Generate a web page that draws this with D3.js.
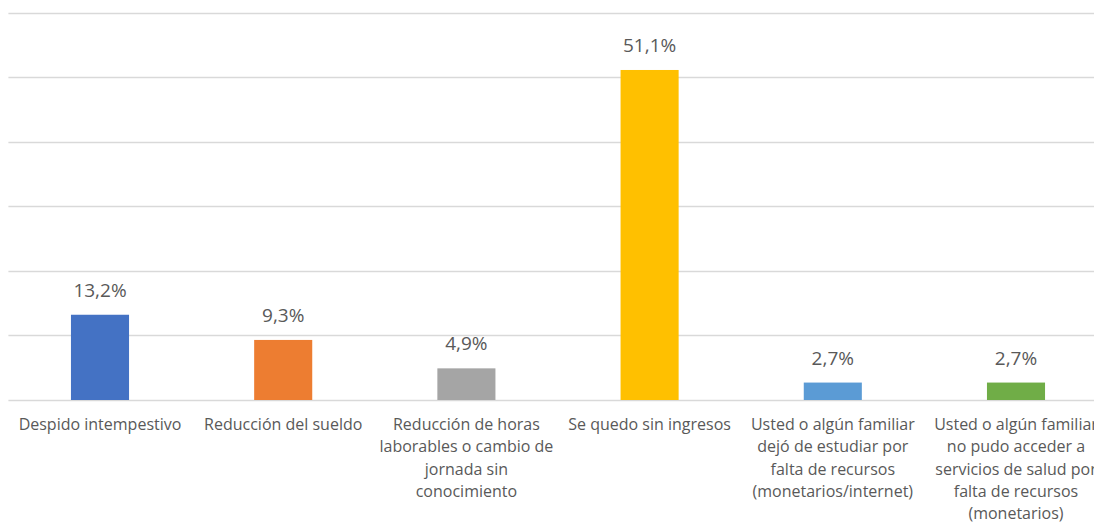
<!DOCTYPE html>
<html><head><meta charset="utf-8">
<script src="https://cdn.jsdelivr.net/npm/d3@7/dist/d3.min.js"></script>
<style>body{margin:0;background:#fff;overflow:hidden}text{font-family:"Open Sans","Liberation Sans",sans-serif;fill:#595959}</style>
</head><body><svg id="c" width="1094" height="524"></svg>
<script>
const categories = [
  "Despido intempestivo",
  "Reducción del sueldo",
  "Reducción de horas laborables o cambio de jornada sin conocimiento",
  "Se quedo sin ingresos",
  "Usted o algún familiar dejó de estudiar por falta de recursos (monetarios/internet)",
  "Usted o algún familiar no pudo acceder a servicios de salud por falta de recursos (monetarios)"
];
const categoryLines = [
  ["Despido intempestivo"],
  ["Reducción del sueldo"],
  ["Reducción de horas", "laborables o cambio de", "jornada sin", "conocimiento"],
  ["Se quedo sin ingresos"],
  ["Usted o algún familiar", "dejó de estudiar por", "falta de recursos", "(monetarios/internet)"],
  ["Usted o algún familiar", "no pudo acceder a", "servicios de salud por", "falta de recursos", "(monetarios)"]
];
const values = [13.2, 9.3, 4.9, 51.1, 2.7, 2.7];
const valueLabels = ["13,2%", "9,3%", "4,9%", "51,1%", "2,7%", "2,7%"];
const colors = ["#4472C4", "#ED7D31", "#A5A5A5", "#FFC000", "#5B9BD5", "#70AD47"];
const gridTicks = [0, 10, 20, 30, 40, 50, 60];

const svg = d3.select("#c");
const x = d3.scaleBand().domain(categories).range([8.4, 1107.6]).paddingInner(0.683).paddingOuter(0.3415);
const y = d3.scaleLinear().domain([0, 60]).range([400, 12.5]);

svg.append("g").selectAll("line").data(gridTicks).join("line")
  .attr("x1", 8.4).attr("x2", 1107.6)
  .attr("y1", d => Math.round(y(d)) + 0.5).attr("y2", d => Math.round(y(d)) + 0.5)
  .attr("stroke", "#d9d9d9").attr("stroke-width", 1.3);

svg.append("g").selectAll("rect").data(values).join("rect")
  .attr("x", (d, i) => x(categories[i]))
  .attr("width", x.bandwidth())
  .attr("y", d => y(d))
  .attr("height", d => y(0) - y(d))
  .attr("fill", (d, i) => colors[i]);

svg.append("g").selectAll("text").data(values).join("text")
  .attr("x", (d, i) => x(categories[i]) + x.bandwidth() / 2)
  .attr("y", d => y(d) - 18)
  .attr("text-anchor", "middle")
  .attr("font-size", 19)
  .text((d, i) => valueLabels[i]);

const lab = svg.append("g").selectAll("text").data(categories).join("text")
  .attr("text-anchor", "middle")
  .attr("font-size", 16)
  .attr("transform", d => `translate(${x(d) + x.bandwidth() / 2},430)`);
lab.each(function(d, i) {
  d3.select(this).selectAll("tspan").data(categoryLines[i]).join("tspan")
    .attr("x", 0).attr("dy", (t, j) => j === 0 ? 0 : 22.3).text(t => t);
});
</script></body></html>
